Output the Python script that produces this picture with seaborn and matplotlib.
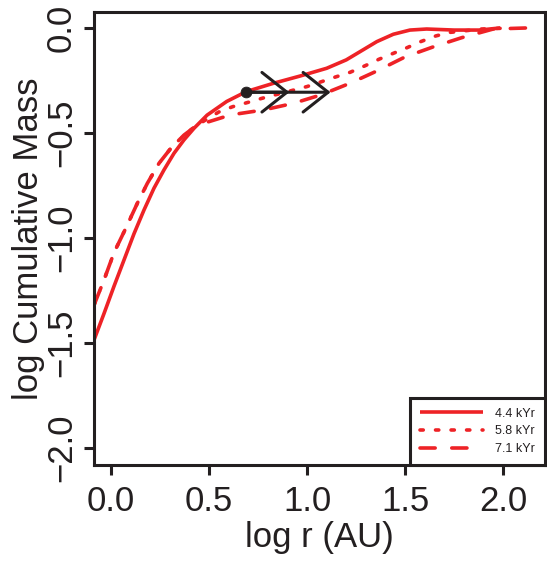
import numpy as np
import pandas as pd
import seaborn as sns
import matplotlib.pyplot as plt

# values
x_44 = [-0.087, -0.036, 0.015, 0.066, 0.117, 0.168, 0.219, 0.27, 0.321, 0.372,
        0.423, 0.49, 0.59, 0.69, 0.83, 0.964, 1.10, 1.20, 1.27, 1.356,
        1.44, 1.525, 1.61, 1.75, 1.88, 1.985]
y_44 = [-1.486, -1.36, -1.23, -1.105, -0.98, -0.867, -0.763, -0.676, -0.597, -0.533,
        -0.478, -0.415, -0.35, -0.303, -0.263, -0.229, -0.192, -0.152, -0.113, -0.065,
        -0.03, -0.01, -0.005, -0.01, -0.01, 0.0]

x_58 = [-0.087, -0.036, 0.015, 0.075, 0.134, 0.185, 0.245, 0.305, 0.372, 0.44,
        0.55, 0.62, 0.70, 0.77, 1.00, 1.14, 1.22, 1.296, 1.367, 1.437, 1.51,
        1.58, 1.657, 1.73, 1.89, 2.04]
y_58 = [-1.32, -1.20, -1.07, -0.954, -0.835, -0.74, -0.644, -0.573, -0.51, -0.462,
        -0.40, -0.375, -0.354, -0.335, -0.279, -0.235, -0.211, -0.18, -0.149, -0.122, -0.094,
        -0.065, -0.038, -0.021, -0.005, 0.0]

x_71 = [-0.087, -0.036, 0.015, 0.075, 0.134, 0.185, 0.245, 0.305, 0.372, 0.44,
        0.50, 0.61, 0.78, 0.93, 1.07, 1.22, 1.356, 1.50, 1.644, 1.79, 1.95, 2.12]
y_71 = [-1.32, -1.20, -1.07, -0.954, -0.835, -0.74, -0.644, -0.573, -0.51, -0.462,
        -0.446, -0.414, -0.39, -0.359, -0.319, -0.263, -0.205, -0.138, -0.09, -0.046, -0.005, 0.0]

labels = ["4.4 kYr", "5.8 kYr", "7.1 kYr"]
start_pt = (0.69, -0.306)
arrow_tips = [0.91, 1.12]

x_ticks = [0.0, 0.5, 1.0, 1.5, 2.0]
y_ticks = [0.0, -0.5, -1.0, -1.5, -2.0]

sns.set_theme(style="white")
plt.rcParams["font.family"] = ["Liberation Sans", "DejaVu Sans"]

red = "#ee2226"
dark = "#231f20"

fig = plt.figure(figsize=(5.47, 5.66), dpi=100)
ax = fig.add_axes([94 / 547, 101 / 566, 451 / 547, 453 / 566])

sns.lineplot(x=x_44, y=y_44, ax=ax, color=red, lw=2.6, label=labels[0],
             sort=False, solid_capstyle="butt", solid_joinstyle="round")
sns.lineplot(x=x_58, y=y_58, ax=ax, color=red, lw=2.6, label=labels[1],
             sort=False, linestyle=(0, (0.9, 3.4)), dash_capstyle="round")
sns.lineplot(x=x_71, y=y_71, ax=ax, color=red, lw=2.6, label=labels[2],
             sort=False, linestyle=(0, (4.2, 4.6)), dash_capstyle="round")

# arrows
for tip in arrow_tips:
    ax.annotate("", xy=(tip, start_pt[1]), xytext=start_pt,
                arrowprops=dict(arrowstyle="->,head_length=1.2,head_width=0.95",
                                color=dark, lw=2.2, mutation_scale=15,
                                shrinkA=0, shrinkB=0))
sns.scatterplot(x=[start_pt[0]], y=[start_pt[1]], ax=ax, color=dark, s=60,
                edgecolor=dark, zorder=5)

ax.set_xlim(-0.087, 2.214)
ax.set_ylim(-2.081, 0.076)
ax.set_xticks(x_ticks)
ax.set_xticklabels([f"{v:.1f}" for v in x_ticks])
ax.set_yticks(y_ticks)
ax.set_yticklabels([f"{v:.1f}".replace("-", "\u2212") for v in y_ticks],
                   rotation=90, va="center")
ax.tick_params(axis="both", direction="out", length=7.5, width=2.2,
               color=dark, labelsize=25, labelcolor=dark, left=True, bottom=True)
ax.tick_params(axis="x", pad=7)
ax.tick_params(axis="y", pad=4)
for s in ax.spines.values():
    s.set_linewidth(2.2)
    s.set_color(dark)
    s.set_visible(True)

ax.set_xlabel("log r (AU)", fontsize=25, color=dark, labelpad=2)
ax.set_ylabel("log Cumulative Mass", fontsize=25, color=dark, labelpad=0)

leg = ax.legend(loc="lower right", bbox_to_anchor=(1.0, 0.0), borderaxespad=0,
                fontsize=9, handlelength=5.0, handletextpad=1.0,
                labelspacing=0.45, borderpad=0.8, fancybox=False, framealpha=1)
leg.get_frame().set_edgecolor(dark)
leg.get_frame().set_linewidth(2.2)
for t in leg.get_texts():
    t.set_color(dark)

fig.savefig("out.png", dpi=100)
